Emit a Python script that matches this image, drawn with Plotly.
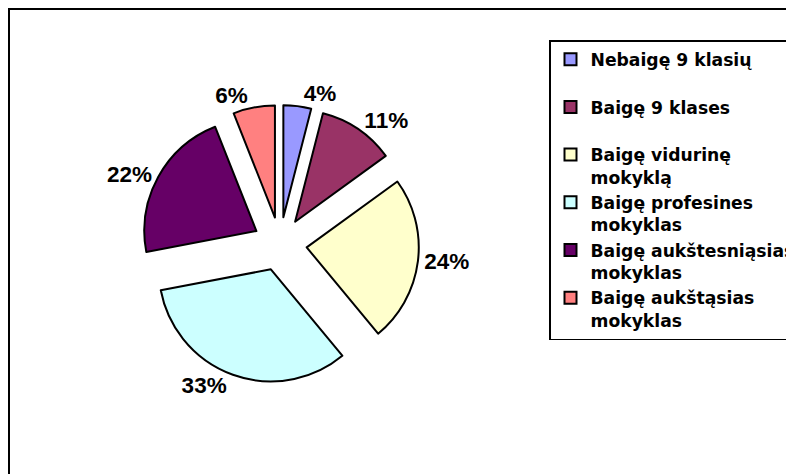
import plotly.graph_objects as go

# Duomenys
categories = [
    "Nebaigę 9 klasių",
    "Baigę 9 klases",
    "Baigę vidurinę<br>mokyklą",
    "Baigę profesines<br>mokyklas",
    "Baigę aukštesniąsias<br>mokyklas",
    "Baigę aukštąsias<br>mokyklas",
]
values = [4, 11, 24, 33, 22, 6]
colors = ["#9999FF", "#993366", "#FFFFCC", "#CCFFFF", "#660066", "#FF8080"]

# single-line entries get an empty second line so every legend row has the same height
legend_labels = [c if "<br>" in c else c + "<br> " for c in categories]

fig = go.Figure()

fig.add_trace(go.Pie(
    labels=legend_labels,
    values=values,
    sort=False,
    direction="clockwise",
    rotation=0,
    pull=[0.24] * len(values),
    marker=dict(colors=colors, line=dict(color="black", width=2)),
    texttemplate="%{percent:.0%}",
    textposition="outside",
    textfont=dict(family="Liberation Sans, Arial", size=22.5, color="black", weight="bold"),
    hoverinfo="label+percent",
    domain=dict(x=[0.1675, 0.5176], y=[0.2089, 0.7954]),
))

# ramelis aplink diagramą (dešinė ir apatinė kraštinės nukirptos)
fig.add_shape(type="rect", xref="paper", yref="paper",
              x0=1 / 794, x1=1.05, y0=-0.05, y1=1 - 1 / 474,
              line=dict(color="black", width=2), fillcolor="rgba(0,0,0,0)")

fig.update_layout(
    width=794,
    height=474,
    margin=dict(l=0, r=0, t=0, b=0, autoexpand=False),
    paper_bgcolor="white",
    plot_bgcolor="white",
    showlegend=True,
    legend=dict(
        x=541 / 794, y=1 - 32 / 474,
        xanchor="left", yanchor="top",
        bordercolor="black", borderwidth=1.5,
        valign="top",
        font=dict(family="DejaVu Sans", size=17.2, color="black", weight="bold"),
        bgcolor="white",
    ),
)

fig.write_html("out.html")
